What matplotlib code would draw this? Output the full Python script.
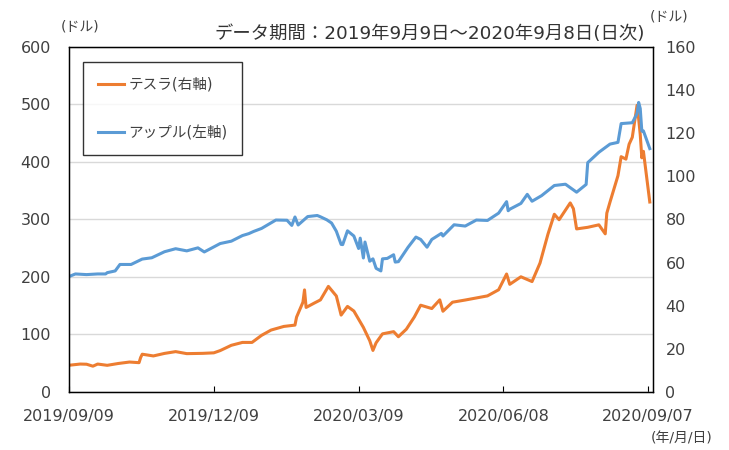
import matplotlib
matplotlib.use('Agg')
import matplotlib.pyplot as plt
import matplotlib.dates as mdates
import pandas as pd

plt.rcParams['font.family'] = ['DejaVu Sans', 'Noto Sans CJK JP']

# テスラ (左目盛りで描画)
tesla_dates = ['2019-09-09', '2019-09-16', '2019-09-20', '2019-09-24', '2019-09-27', '2019-10-03',
               '2019-10-10', '2019-10-17', '2019-10-23', '2019-10-24', '2019-10-25', '2019-11-01',
               '2019-11-08', '2019-11-15', '2019-11-22', '2019-12-02', '2019-12-09', '2019-12-13',
               '2019-12-20', '2019-12-27', '2020-01-02', '2020-01-08', '2020-01-14', '2020-01-22',
               '2020-01-29', '2020-01-30', '2020-02-03', '2020-02-04', '2020-02-05', '2020-02-10',
               '2020-02-14', '2020-02-19', '2020-02-24', '2020-02-27', '2020-03-02', '2020-03-06',
               '2020-03-12', '2020-03-16', '2020-03-18', '2020-03-20', '2020-03-24', '2020-03-31',
               '2020-04-03', '2020-04-08', '2020-04-13', '2020-04-17', '2020-04-24', '2020-04-29',
               '2020-05-01', '2020-05-07', '2020-05-15', '2020-05-22', '2020-05-29', '2020-06-05',
               '2020-06-10', '2020-06-12', '2020-06-19', '2020-06-26', '2020-07-01', '2020-07-06',
               '2020-07-10', '2020-07-13', '2020-07-20', '2020-07-22', '2020-07-24', '2020-07-31',
               '2020-08-07', '2020-08-11', '2020-08-12', '2020-08-14', '2020-08-19', '2020-08-21',
               '2020-08-24', '2020-08-26', '2020-08-28', '2020-08-31', '2020-09-01', '2020-09-02',
               '2020-09-03', '2020-09-04', '2020-09-08']
tesla = [46.4, 48.5, 48.2, 44.8, 48.5, 46.3,
         49.5, 52.0, 50.9, 59.9, 65.6, 62.6,
         67.0, 70.1, 66.6, 67.1, 68.0, 71.9,
         81.1, 86.1, 86.1, 98.4, 107.6, 113.9,
         116.2, 130.1, 156.0, 177.4, 146.9, 154.3,
         160.0, 183.5, 166.8, 133.6, 148.7, 140.7,
         112.2, 89.0, 72.2, 85.5, 101.0, 104.8,
         96.0, 109.1, 130.2, 150.8, 145.0, 160.1,
         140.3, 156.0, 159.8, 163.4, 167.0, 177.6,
         205.0, 187.1, 200.2, 191.9, 224.0, 274.3,
         308.9, 299.4, 328.6, 318.5, 283.4, 286.2,
         290.5, 274.9, 310.9, 330.1, 376.0, 409.0,
         404.7, 430.6, 442.7, 498.3, 475.1, 447.4,
         407.0, 418.3, 330.2]

# アップル (右目盛りで描画)
apple_dates = ['2019-09-09', '2019-09-13', '2019-09-20', '2019-09-27', '2019-10-02', '2019-10-03',
               '2019-10-08', '2019-10-11', '2019-10-18', '2019-10-25', '2019-10-31', '2019-11-08',
               '2019-11-15', '2019-11-22', '2019-11-29', '2019-12-03', '2019-12-13', '2019-12-20',
               '2019-12-27', '2019-12-31', '2020-01-03', '2020-01-08', '2020-01-17', '2020-01-24',
               '2020-01-27', '2020-01-29', '2020-01-31', '2020-02-06', '2020-02-12', '2020-02-14',
               '2020-02-18', '2020-02-21', '2020-02-24', '2020-02-27', '2020-02-28', '2020-03-02',
               '2020-03-06', '2020-03-09', '2020-03-10', '2020-03-12', '2020-03-13', '2020-03-16',
               '2020-03-18', '2020-03-20', '2020-03-23', '2020-03-24', '2020-03-27', '2020-03-31',
               '2020-04-01', '2020-04-03', '2020-04-09', '2020-04-14', '2020-04-17', '2020-04-21',
               '2020-04-24', '2020-04-30', '2020-05-01', '2020-05-08', '2020-05-15', '2020-05-22',
               '2020-05-29', '2020-06-05', '2020-06-10', '2020-06-11', '2020-06-12', '2020-06-19',
               '2020-06-23', '2020-06-26', '2020-07-02', '2020-07-10', '2020-07-17', '2020-07-24',
               '2020-07-30', '2020-07-31', '2020-08-07', '2020-08-14', '2020-08-19', '2020-08-21',
               '2020-08-28', '2020-08-31', '2020-09-01', '2020-09-02', '2020-09-03', '2020-09-04',
               '2020-09-08']
apple = [53.5, 54.7, 54.4, 54.7, 54.7, 55.3,
         56.1, 59.1, 59.1, 61.6, 62.2, 65.0,
         66.4, 65.4, 66.8, 64.9, 68.8, 69.9,
         72.5, 73.4, 74.4, 75.8, 79.7, 79.6,
         77.2, 81.1, 77.4, 81.3, 81.8, 81.2,
         79.8, 78.3, 74.5, 68.4, 68.3, 74.7,
         72.3, 66.5, 71.3, 62.1, 69.5, 60.6,
         61.7, 57.3, 56.1, 61.7, 61.9, 63.6,
         60.2, 60.4, 67.0, 71.8, 70.7, 67.1,
         70.7, 73.5, 72.3, 77.5, 76.9, 79.7,
         79.5, 82.9, 88.2, 84.0, 84.7, 87.4,
         91.6, 88.4, 91.0, 95.7, 96.3, 92.6,
         96.2, 106.3, 111.1, 114.9, 115.7, 124.4,
         124.8, 129.0, 134.2, 131.4, 120.9, 121.0,
         112.8]

xtick_dates = ['2019-09-09', '2019-12-09', '2020-03-09', '2020-06-08', '2020-09-07']

fig = plt.figure(figsize=(7.29, 4.5), dpi=100)
ax = fig.add_axes([0.0947, 0.129, 0.801, 0.767])
ax2 = ax.twinx()

l1, = ax.plot(pd.to_datetime(tesla_dates), tesla, color='#ED7D31', lw=2.2, label='テスラ(右軸)')
l2, = ax2.plot(pd.to_datetime(apple_dates), apple, color='#5B9BD5', lw=2.2, label='アップル(左軸)')

ax.set_xlim(pd.Timestamp('2019-09-09'), pd.Timestamp('2020-09-10'))
ax.set_ylim(0, 600)
ax2.set_ylim(0, 160)
ax.set_yticks(range(0, 601, 100))
ax2.set_yticks(range(0, 161, 20))
ax.yaxis.grid(True, color='#d9d9d9', lw=1)
ax.set_axisbelow(True)

ax.set_xticks(pd.to_datetime(xtick_dates))
ax.xaxis.set_major_formatter(mdates.DateFormatter('%Y/%m/%d'))
ax.tick_params(axis='x', direction='in', length=4, pad=12, labelsize=11.5, color='black', labelcolor='#404040')
ax.tick_params(axis='y', length=0, pad=13, labelsize=11.5, labelcolor='#404040')
ax2.tick_params(axis='y', length=0, pad=9, labelsize=11.5, labelcolor='#404040')
for sp in ax2.spines.values():
    sp.set_color('black')
    sp.set_linewidth(1)

leg = ax.legend(handles=[l1, l2], loc='upper left', bbox_to_anchor=(0.024, 0.955),
                fontsize=10.5, frameon=True, fancybox=False, edgecolor='black',
                handlelength=1.8, handletextpad=0.3, labelspacing=2.3,
                borderpad=1.0, borderaxespad=0)
leg.get_frame().set_linewidth(1)
for t in leg.get_texts():
    t.set_color('#404040')

fig.text(0.885, 0.925, 'データ期間：2019年9月9日～2020年9月8日(日次)', ha='right', va='center',
         fontsize=13.2, color='#333333')
fig.text(0.083, 0.94, '(ドル)', ha='left', va='center', fontsize=10, color='#404040')
fig.text(0.891, 0.963, '(ドル)', ha='left', va='center', fontsize=10, color='#404040')
fig.text(0.977, 0.025, '(年/月/日)', ha='right', va='center', fontsize=10, color='#404040')

fig.savefig('out.png', dpi=100)
